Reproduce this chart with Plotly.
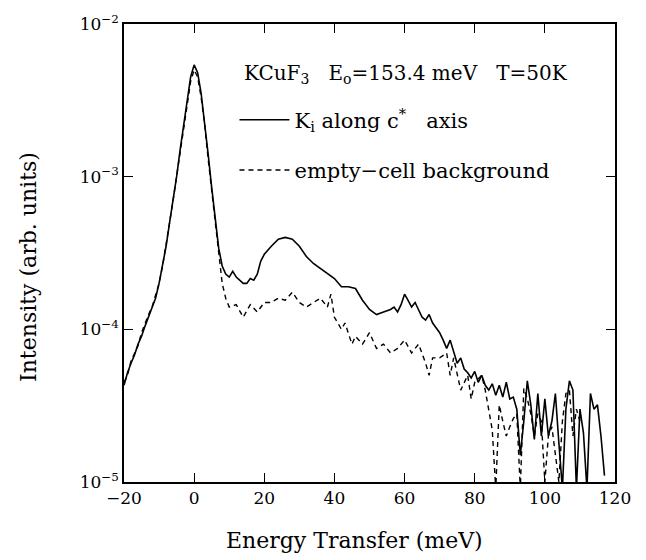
import plotly.graph_objects as go

# Energy transfer (meV) for the sample measurement
energy_sample = [-20, -19, -18, -17, -16, -15, -14, -13, -12, -11, -10, -9, -8, -7, -6, -5, -4, -3, -2, -1,
                 0, 1, 2, 3, 4, 5, 6, 7, 8, 9, 10, 11, 12, 13, 14, 15, 16, 17, 18, 19, 20, 22, 24, 26, 28,
                 30, 32, 34, 36, 38, 40, 42, 44, 46, 48, 50, 52, 54, 56, 57, 58, 59, 60, 61, 62, 63, 64,
                 65, 66, 67, 68, 70, 71, 72, 73, 74, 75, 76, 77, 78, 79, 80, 81, 82, 83, 84, 85, 86, 87,
                 88, 89, 90, 91, 92, 93, 94, 95, 96, 97, 98, 99, 100, 101, 102, 103, 104, 105, 106, 107,
                 108, 109, 110, 111, 112, 113, 114, 115, 116, 117]
intensity_sample = [4.3e-5, 5.2e-5, 6.0e-5, 6.8e-5, 8.0e-5, 9.0e-5, 1.05e-4, 1.2e-4, 1.4e-4, 1.6e-4,
                    2.0e-4, 2.6e-4, 3.5e-4, 5.0e-4, 7.0e-4, 1.0e-3, 1.5e-3, 2.2e-3, 3.2e-3, 4.5e-3,
                    5.4e-3, 4.8e-3, 3.5e-3, 2.3e-3, 1.4e-3, 8.5e-4, 5.2e-4, 3.4e-4, 2.6e-4, 2.3e-4,
                    2.2e-4, 2.4e-4, 2.2e-4, 2.1e-4, 2.0e-4, 2.0e-4, 2.15e-4, 2.1e-4, 2.3e-4, 2.8e-4,
                    3.1e-4, 3.5e-4, 3.9e-4, 4.0e-4, 3.9e-4, 3.5e-4, 3.0e-4, 2.7e-4, 2.5e-4, 2.3e-4,
                    2.15e-4, 1.9e-4, 1.9e-4, 1.85e-4, 1.55e-4, 1.35e-4, 1.25e-4, 1.3e-4, 1.35e-4,
                    1.4e-4, 1.3e-4, 1.45e-4, 1.7e-4, 1.55e-4, 1.4e-4, 1.5e-4, 1.35e-4, 1.2e-4, 1.15e-4,
                    1.25e-4, 1.1e-4, 9.5e-5, 8.5e-5, 7.5e-5, 8.5e-5, 7.0e-5, 6.0e-5, 6.5e-5, 5.5e-5,
                    5.2e-5, 4.8e-5, 5.3e-5, 4.5e-5, 5.0e-5, 4.3e-5, 4.0e-5, 4.4e-5, 3.7e-5, 4.3e-5,
                    3.6e-5, 4.5e-5, 3.5e-5, 3.6e-5, 3.0e-5, 1.5e-5, 2.5e-5, 4.6e-5, 3.2e-5, 1.9e-5,
                    3.8e-5, 2.0e-5, 3.5e-5, 2.0e-5, 2.5e-5, 3.8e-5, 1.8e-5, 9.0e-6, 3.0e-5, 4.6e-5,
                    4.0e-5, 9.0e-6, 3.0e-5, 2.1e-5, 9.0e-6, 3.8e-5, 3.0e-5, 3.2e-5, 2.0e-5, 1.1e-5]

# Energy transfer (meV) for the empty-cell background
energy_empty = [-20, -19, -18, -17, -16, -15, -14, -13, -12, -11, -10, -9, -8, -7, -6, -5, -4, -3, -2, -1,
                0, 1, 2, 3, 4, 5, 6, 7, 8, 9, 10, 12, 14, 16, 18, 20, 22, 24, 26, 28, 30, 32, 34, 36,
                38, 39, 40, 42, 43, 45, 46, 48, 50, 52, 54, 56, 58, 60, 62, 64, 66, 67, 68, 70, 72, 73,
                74, 75, 76, 78, 79, 80, 82, 83, 84, 85, 86, 87, 88, 89, 90, 91, 92, 93, 94, 95, 96, 97,
                98, 99, 100, 101, 102, 103, 104, 105, 106, 107, 108, 109, 110]
intensity_empty = [4.5e-5, 5.0e-5, 6.2e-5, 7.0e-5, 7.8e-5, 9.5e-5, 1.1e-4, 1.25e-4, 1.4e-4, 1.65e-4,
                   2.0e-4, 2.6e-4, 3.5e-4, 5.0e-4, 7.0e-4, 1.0e-3, 1.5e-3, 2.2e-3, 3.1e-3, 4.2e-3,
                   5.0e-3, 4.5e-3, 3.3e-3, 2.2e-3, 1.3e-3, 8.0e-4, 5.0e-4, 3.0e-4, 2.0e-4, 1.6e-4,
                   1.4e-4, 1.45e-4, 1.2e-4, 1.45e-4, 1.3e-4, 1.5e-4, 1.5e-4, 1.6e-4, 1.55e-4, 1.75e-4,
                   1.5e-4, 1.4e-4, 1.5e-4, 1.6e-4, 1.4e-4, 1.7e-4, 1.2e-4, 1.0e-4, 1.1e-4, 8.0e-5,
                   9.0e-5, 8.0e-5, 9.5e-5, 7.5e-5, 8.0e-5, 7.0e-5, 7.5e-5, 8.5e-5, 7.0e-5, 8.0e-5,
                   6.0e-5, 5.0e-5, 6.5e-5, 6.5e-5, 7.0e-5, 5.0e-5, 6.5e-5, 5.0e-5, 4.0e-5, 5.0e-5,
                   3.5e-5, 4.5e-5, 5.0e-5, 4.0e-5, 3.0e-5, 2.2e-5, 9.0e-6, 3.2e-5, 2.5e-5, 2.0e-5,
                   2.3e-5, 2.6e-5, 2.8e-5, 9.0e-6, 4.1e-5, 3.5e-5, 2.8e-5, 2.0e-5, 2.8e-5, 2.5e-5,
                   1.0e-5, 2.0e-5, 2.3e-5, 1.5e-5, 1.0e-5, 2.5e-5, 3.8e-5, 4.0e-5, 2.0e-5, 3.0e-5, 2.5e-5]

x_ticks = [-20, 0, 20, 40, 60, 80, 100, 120]
x_tick_text = ["\u221220", "0", "20", "40", "60", "80", "100", "120"]
y_ticks = [1e-5, 1e-4, 1e-3, 1e-2]
y_tick_text = ["10<sup>\u22125</sup>", "10<sup>\u22124</sup>", "10<sup>\u22123</sup>", "10<sup>\u22122</sup>"]

x_title = "Energy Transfer (meV)"
y_title = "Intensity (arb. units)"
run_info = "KCuF<sub>3</sub>\u00a0\u00a0\u00a0E<sub>o</sub>=153.4\u00a0meV\u00a0\u00a0\u00a0T=50K"
sample_label = "K<sub>i</sub>\u00a0along\u00a0c<sup>*</sup>\u00a0\u00a0\u00a0axis"
empty_label = "empty\u2212cell\u00a0background"

FONT = "DejaVu Serif"
TITLE_SIZE = 22

fig = go.Figure()
fig.add_trace(go.Scatter(
    x=energy_sample, y=intensity_sample, mode="lines",
    line=dict(color="black", width=1.6),
    name=sample_label, legendgroup="a",
))
fig.add_trace(go.Scatter(
    x=energy_empty, y=intensity_empty, mode="lines",
    line=dict(color="black", width=1.4, dash="5px,4px"),
    name=empty_label, legendgroup="b",
))

axis_common = dict(
    showgrid=False, zeroline=False, showline=True, linecolor="black", linewidth=1.5,
    mirror="ticks", ticks="inside", ticklen=9, tickwidth=1.3, tickcolor="black",
    tickfont=dict(family=FONT, size=17, color="black"),
)

fig.update_xaxes(range=[-20, 120], tickvals=x_ticks, ticktext=x_tick_text, **axis_common)
fig.update_yaxes(type="log", range=[-5, -2], tickvals=y_ticks, ticktext=y_tick_text, **axis_common)

# axis titles, placed as paper-anchored text
fig.add_annotation(
    text=x_title, xref="paper", yref="paper", x=0.47, y=-0.128,
    xanchor="center", yanchor="middle", showarrow=False,
    font=dict(family=FONT, size=TITLE_SIZE, color="black"),
)
fig.add_annotation(
    text=y_title, xref="paper", yref="paper", x=-0.195, y=0.47, textangle=-90,
    xanchor="center", yanchor="middle", showarrow=False,
    font=dict(family=FONT, size=TITLE_SIZE, color="black"),
)

# header line describing the measurement
fig.add_annotation(
    text=run_info, xref="paper", yref="paper", x=0.24, y=0.89,
    xanchor="left", yanchor="middle", showarrow=False,
    font=dict(family=FONT, size=20, color="black"),
)

fig.update_layout(
    width=646, height=560,
    margin=dict(l=124, r=31, t=22, b=78),
    paper_bgcolor="white", plot_bgcolor="white",
    font=dict(family=FONT, color="black"),
    showlegend=True,
    legend=dict(
        x=0.225, y=0.835, xanchor="left", yanchor="top",
        bgcolor="rgba(0,0,0,0)", borderwidth=0,
        font=dict(family=FONT, size=21, color="black"),
        tracegroupgap=20, itemwidth=50,
    ),
)

fig.write_html("out.html")
